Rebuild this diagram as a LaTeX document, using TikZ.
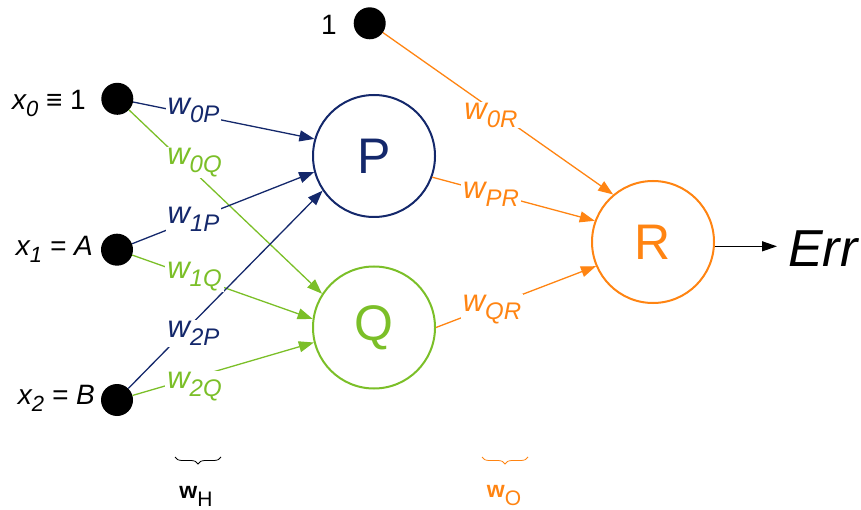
\documentclass[tikz,border=0pt]{standalone}
\usepackage{fontspec}
\setmainfont{Liberation Sans}
\usetikzlibrary{arrows.meta,decorations.pathreplacing,calc}
\definecolor{navy}{HTML}{14286B}
\definecolor{lgreen}{HTML}{7BBF28}
\definecolor{orng}{HTML}{FF8412}
\newcommand\fs[1]{\fontsize{#1}{#1}\selectfont}
\newcommand\wsub[2]{\textit{#1\raisebox{-8pt}{\fs{24}#2}}}
\newcommand\xsub[1]{\raisebox{-7pt}{\fs{22}#1}}
\begin{document}
\begin{tikzpicture}[x=1pt,y=-1pt,
  dot/.style={circle,fill=black,minimum size=32pt,inner sep=0},
  neuron/.style={circle,draw,line width=2pt,minimum size=122pt,inner sep=0,font=\fs{50}},
  edge/.style={line width=1.3pt,-{Triangle[length=15pt,width=11pt]}},
  wlab/.style={fill=white,inner xsep=2pt,inner ysep=1pt,font=\fs{31}},
  xlab/.style={inner sep=0,font=\fs{28},anchor=base east},
  bracestyle/.style={decorate,decoration={brace,amplitude=7pt,mirror},line width=0.8pt}]
\useasboundingbox (0,0) rectangle (861,510);

% neurons
\node[neuron,draw=navy,text=navy] (P) at (374,156) {P};
\node[neuron,draw=lgreen,text=lgreen] (Q) at (374,327.5) {Q};
\node[neuron,draw=orng,text=orng] (R) at (653,242) {R};

% inputs
\node[dot] (x0) at (117.3,98.8) {};
\node[dot] (x1) at (117,249.7) {};
\node[dot] (x2) at (117,400) {};
\node[dot] (b) at (369.7,23.3) {};

\node[xlab] (lx0) at (86,109.3) {\textit{x\xsub{0}} ≡ 1};
\node[xlab] (lx1) at (93,255.5) {\textit{x\xsub{1} = A}};
\node[xlab] (lx2) at (95,404) {\textit{x\xsub{2} = B}};
\node[xlab] (lb) at (337,35) {1};

% edges
\draw[edge,navy] (x0) -- (P.164);
\draw[edge,lgreen] (x0) -- (Q.147);
\draw[edge,navy] (x1) -- (P.195);
\draw[edge,lgreen] (x1) -- (Q.172);
\draw[edge,navy] (x2) -- (P.214);
\draw[edge,lgreen] (x2) -- (Q.194);
\draw[edge,orng] (b) -- (R.130);
\draw[edge,orng] (P.-20) -- (R.160);
\draw[edge,orng] (Q.0) -- (R.203);

% edge labels
\node[wlab,text=navy] (l0P) at (193.5,110) {\wsub{w}{0P}};
\node[wlab,text=lgreen] (l0Q) at (194.5,162.5) {\wsub{w}{0Q}};
\node[wlab,text=navy] (l1P) at (193.5,219) {\wsub{w}{1P}};
\node[wlab,text=lgreen] (l1Q) at (194.5,276.5) {\wsub{w}{1Q}};
\node[wlab,text=navy] (l2P) at (193.5,333.5) {\wsub{w}{2P}};
\node[wlab,text=lgreen] (l2Q) at (194.5,386.5) {\wsub{w}{2Q}};
\node[wlab,text=orng] (l0R) at (491,115) {\wsub{w}{0R}};
\node[wlab,text=orng] (lPR) at (491,194.5) {\wsub{w}{PR}};
\node[wlab,text=orng] (lQR) at (492,309.5) {\wsub{w}{QR}};

% output
\node[anchor=base west,inner xsep=11pt,inner ysep=0,font=\fs{52}\itshape] (Err) at (777,267) {Err};
\draw[line width=1.3pt,-{Triangle[length=15pt,width=10pt]}] (R.-4) -- (R.-4 -| Err.west);

% braces
\draw[bracestyle] (175,457) -- (221,457);
\draw[bracestyle,orng] (482,457) -- (528,457);
\node[inner sep=0] (wH) at (196,496) {\fs{23}\bfseries w\raisebox{-8pt}{\fs{21}\mdseries H}};
\node[inner sep=0,text=orng] (wO) at (504,496) {\fs{23}\bfseries w\raisebox{-8pt}{\fs{21}\mdseries O}};
\end{tikzpicture}
\end{document}
